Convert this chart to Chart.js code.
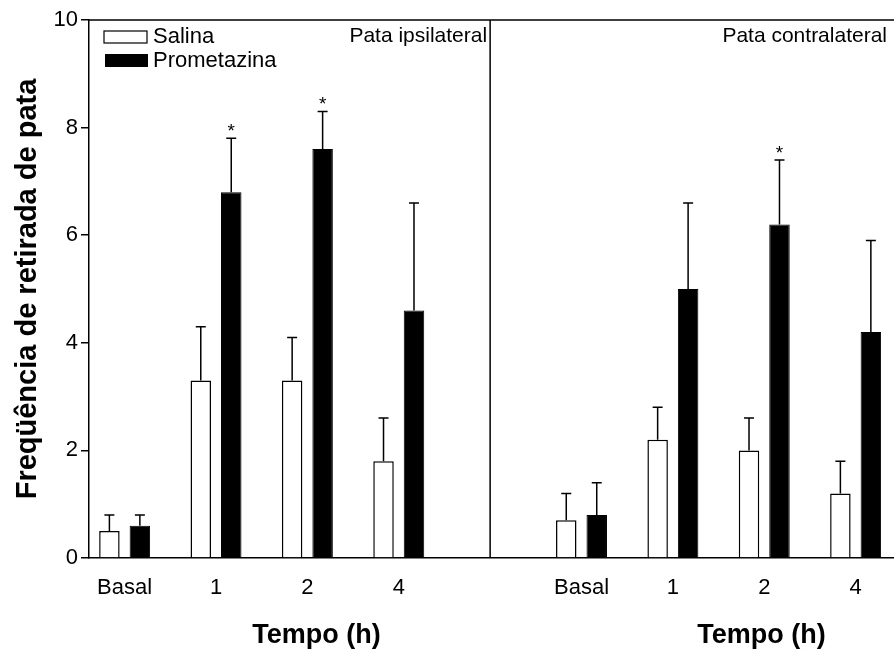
<!DOCTYPE html>
<html>
<head>
<meta charset="utf-8">
<script src="https://cdn.jsdelivr.net/npm/chart.js@4.4.1/dist/chart.umd.min.js"></script>
<style>
  html, body { margin: 0; padding: 0; background: #fff; }
  #wrap { width: 894px; height: 653px; }
</style>
</head>
<body>
<div id="wrap"><canvas id="chart"></canvas></div>
<script>
const categories = ['Basal', '1', '2', '4'];
const panelNames = ['Pata ipsilateral', 'Pata contralateral'];
const groupNames = ['Salina', 'Prometazina'];

// mean and SEM - ipsilateral paw
const salinaIpsi = [0.5, 3.3, 3.3, 1.8];
const salinaIpsiErr = [0.3, 1.0, 0.8, 0.8];
const prometIpsi = [0.6, 6.8, 7.6, 4.6];
const prometIpsiErr = [0.2, 1.0, 0.7, 2.0];

// mean and SEM - contralateral paw
const salinaContra = [0.7, 2.2, 2.0, 1.2];
const salinaContraErr = [0.5, 0.6, 0.6, 0.6];
const prometContra = [0.8, 5.0, 6.2, 4.2];
const prometContraErr = [0.6, 1.6, 1.2, 1.7];

// * p < 0.05 vs salina
const sigIpsi = [false, true, true, false];
const sigContra = [false, false, true, false];

const yTicks = [0, 2, 4, 6, 8, 10];

// both panels share one linear x axis, one empty slot between them
const GAP = categories.length + 1;

function points(left, right) {
  return left.map((v, i) => ({ x: i, y: v }))
    .concat(right.map((v, i) => ({ x: i + GAP, y: v })));
}

function tickLabel(v) {
  if (v >= 0 && v < categories.length) return categories[v];
  if (v >= GAP && v < GAP + categories.length) return categories[v - GAP];
  return '';
}

const FONT = "'Liberation Sans', Arial, Helvetica, sans-serif";
Chart.defaults.font.family = FONT;
Chart.defaults.color = '#000';

const overlay = {
  id: 'overlay',
  afterDatasetsDraw(chart) {
    const { ctx, scales: { y } } = chart;
    ctx.save();
    ctx.strokeStyle = '#000';
    ctx.fillStyle = '#000';
    ctx.lineWidth = 1.5;
    ctx.font = '19px ' + FONT;
    ctx.textAlign = 'center';
    ctx.textBaseline = 'alphabetic';
    chart.data.datasets.forEach((ds, i) => {
      chart.getDatasetMeta(i).data.forEach((bar, j) => {
        const top = y.getPixelForValue(ds.data[j].y + ds.err[j]);
        ctx.beginPath();
        ctx.moveTo(bar.x, bar.y);
        ctx.lineTo(bar.x, top);
        ctx.moveTo(bar.x - 5, top);
        ctx.lineTo(bar.x + 5, top);
        ctx.stroke();
        if (ds.sig && ds.sig[j]) ctx.fillText('*', bar.x, top - 1);
      });
    });
    ctx.restore();
  },
  afterDraw(chart) {
    const { ctx, chartArea: a, scales: { x } } = chart;
    const mid = x.getPixelForValue(GAP - 1);
    ctx.save();
    ctx.strokeStyle = '#000';
    ctx.lineWidth = 1.5;
    ctx.beginPath();
    ctx.moveTo(a.left, a.top);
    ctx.lineTo(a.right, a.top);
    ctx.moveTo(mid, a.top);
    ctx.lineTo(mid, a.bottom);
    ctx.stroke();

    // legend
    const ds = chart.data.datasets;
    ctx.lineWidth = 1.2;
    ctx.fillStyle = ds[0].backgroundColor;
    ctx.fillRect(a.left + 15, a.top + 11, 43, 12);
    ctx.strokeRect(a.left + 15, a.top + 11, 43, 12);
    ctx.fillStyle = ds[1].backgroundColor;
    ctx.fillRect(a.left + 16, a.top + 34, 43, 13);
    ctx.fillStyle = '#000';
    ctx.font = '22px ' + FONT;
    ctx.textBaseline = 'middle';
    ctx.textAlign = 'left';
    ctx.fillText(ds[0].label, a.left + 64, a.top + 17);
    ctx.fillText(ds[1].label, a.left + 64, a.top + 41);

    // panel names
    ctx.font = '21px ' + FONT;
    ctx.textAlign = 'right';
    ctx.fillText(panelNames[0], mid - 3, a.top + 16);
    ctx.fillText(panelNames[1], a.right - 7, a.top + 16);

    // x axis titles
    ctx.font = 'bold 27px ' + FONT;
    ctx.textAlign = 'center';
    ctx.textBaseline = 'alphabetic';
    ctx.fillText('Tempo (h)', x.getPixelForValue(2.10), 643);
    ctx.fillText('Tempo (h)', x.getPixelForValue(GAP + 1.97), 643);
    ctx.restore();
  }
};

new Chart(document.getElementById('chart'), {
  type: 'bar',
  data: {
    datasets: [
      {
        label: groupNames[0],
        data: points(salinaIpsi, salinaContra),
        err: salinaIpsiErr.concat(salinaContraErr),
        backgroundColor: '#fff',
        borderColor: '#000',
        borderWidth: 1.5
      },
      {
        label: groupNames[1],
        data: points(prometIpsi, prometContra),
        err: prometIpsiErr.concat(prometContraErr),
        sig: sigIpsi.concat(sigContra),
        backgroundColor: '#000',
        borderColor: '#000',
        borderWidth: 1
      }
    ]
  },
  options: {
    responsive: true,
    maintainAspectRatio: false,
    animation: false,
    categoryPercentage: 0.667,
    barPercentage: 0.672,
    layout: { padding: { top: 20, left: 0, right: 0, bottom: 0 } },
    plugins: { legend: { display: false }, tooltip: { enabled: false } },
    scales: {
      x: {
        type: 'linear',
        offset: false,
        min: -0.39,
        max: 8.42,
        grid: { display: false },
        border: { color: '#000', width: 1.5 },
        ticks: {
          stepSize: 1,
          includeBounds: false,
          autoSkip: false,
          maxRotation: 0,
          padding: 9,
          font: { size: 22 },
          color: '#000',
          callback: v => tickLabel(v)
        },
        afterFit: s => { s.height = 95; }
      },
      y: {
        min: 0,
        max: 10,
        afterBuildTicks: s => { s.ticks = yTicks.map(v => ({ value: v })); },
        grid: { drawOnChartArea: false, drawTicks: true, tickLength: 8, color: '#000', lineWidth: 1.5 },
        border: { color: '#000', width: 1.5 },
        ticks: { padding: 3, font: { size: 22 }, color: '#000' },
        title: {
          display: true,
          text: 'Freqüência de retirada de pata',
          font: { size: 29, weight: 'bold' },
          color: '#000',
          padding: { top: 11, bottom: 0 }
        },
        afterFit: s => { s.width = 89; }
      }
    }
  },
  plugins: [overlay]
});
</script>
</body>
</html>
